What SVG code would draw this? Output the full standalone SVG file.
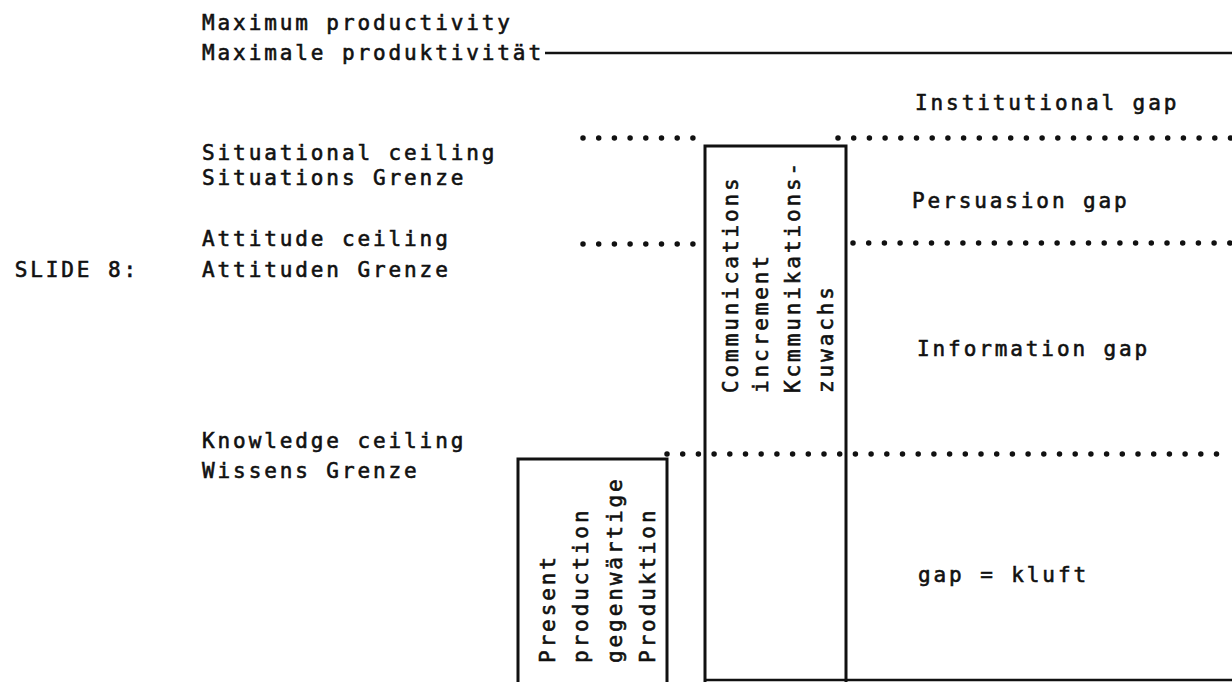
<svg xmlns="http://www.w3.org/2000/svg" width="1232" height="682" viewBox="0 0 1232 682">
<style>
text{font-family:"DejaVu Sans Mono","Liberation Mono",monospace;font-size:21px;letter-spacing:2.9px;fill:#111;stroke:#111;stroke-width:0.6}
.dot{stroke:#111;stroke-width:5.5;stroke-linecap:round;stroke-dasharray:0 15.7;fill:none}
.solid{stroke:#111;stroke-width:2.5;fill:none}
.box{stroke:#111;stroke-width:3;fill:none}
</style>
<rect width="1232" height="682" fill="#fff"/>
<g id="labels">
<text x="202" y="30">Maximum productivity</text>
<text x="202" y="60">Maximale produktivität</text>
<text x="202" y="160">Situational ceiling</text>
<text x="202" y="185">Situations Grenze</text>
<text x="202" y="246">Attitude ceiling</text>
<text x="202" y="277">Attituden Grenze</text>
<text x="139" y="277" text-anchor="end">SLIDE 8:</text>
<text x="202" y="448">Knowledge ceiling</text>
<text x="202" y="478">Wissens Grenze</text>
<text x="915" y="110">Institutional gap</text>
<text x="912" y="208">Persuasion gap</text>
<text x="917" y="356">Information gap</text>
<text x="918" y="582">gap = kluft</text>
</g>
<g id="connectors">
<line class="solid" x1="545" y1="53" x2="1232" y2="53"/>
<line class="dot" x1="583" y1="138" x2="700" y2="138"/>
<line class="dot" x1="838" y1="138" x2="1232" y2="138"/>
<line class="dot" x1="583" y1="244" x2="700" y2="244"/>
<line class="dot" x1="853" y1="243" x2="1232" y2="243"/>
<line class="dot" x1="667" y1="454" x2="1232" y2="454"/>
<line class="solid" x1="705" y1="680" x2="1232" y2="680"/>
</g>
<g id="communications">
<path class="box" d="M705 682 V146 H846 V682"/>
<text transform="translate(738,393) rotate(-90)">Communications</text>
<text transform="translate(768,393) rotate(-90)">increment</text>
<text transform="translate(800,393) rotate(-90)">Kcmmunikations-</text>
<text transform="translate(833,393) rotate(-90)">zuwachs</text>
</g>
<g id="present">
<path class="box" d="M518 682 V459 H667 V682"/>
<text transform="translate(555,663) rotate(-90)">Present</text>
<text transform="translate(588,663) rotate(-90)">production</text>
<text transform="translate(622,663) rotate(-90)">gegenwärtige</text>
<text transform="translate(655,663) rotate(-90)">Produktion</text>
</g>
</svg>
